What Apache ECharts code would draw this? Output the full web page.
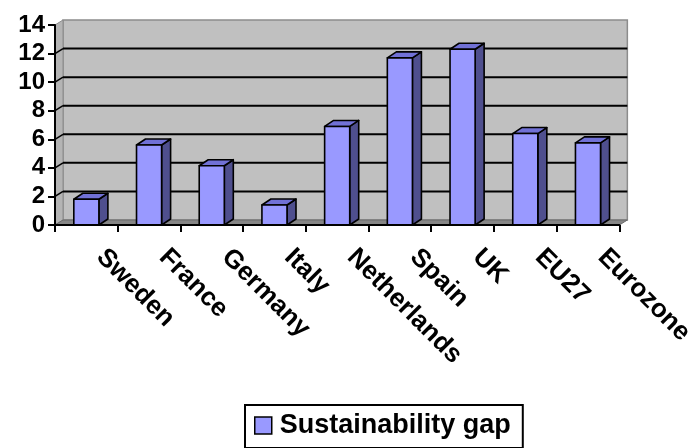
<!DOCTYPE html>
<html>
<head>
<meta charset="utf-8">
<script src="https://cdn.jsdelivr.net/npm/echarts@6/dist/echarts.min.js"></script>
<style>
  html, body { margin: 0; padding: 0; background: #ffffff; }
  #chart { width: 697px; height: 448px; }
</style>
</head>
<body>
<div id="chart"></div>
<script>
// Sustainability gap by country / area
const categories = ['Sweden', 'France', 'Germany', 'Italy', 'Netherlands', 'Spain', 'UK', 'EU27', 'Eurozone'];
const gapValues = [1.8, 5.6, 4.15, 1.4, 6.9, 11.7, 12.3, 6.4, 5.75];
const yTicks = [0, 2, 4, 6, 8, 10, 12, 14];
const seriesName = 'Sustainability gap';

const FONT = '"Liberation Sans", Arial, sans-serif';
// pseudo-3D depth offsets
const WALL_DX = 8, WALL_DY = -5;
const BAR_DX = 9, BAR_DY = -6;

const chart = echarts.init(document.getElementById('chart'), null, { renderer: 'canvas' });

// back wall, side wall, floor and gridlines, drawn from the axis scale
function renderWalls(params, api) {
  const cs = params.coordSys;
  const x0 = cs.x, x1 = cs.x + cs.width;
  const yTop = api.coord([0, yTicks[yTicks.length - 1]])[1];
  const yBase = api.coord([0, yTicks[0]])[1];
  const children = [];
  // back wall
  children.push({
    type: 'rect',
    shape: { x: x0 + WALL_DX, y: yTop + WALL_DY, width: x1 - x0, height: yBase - yTop },
    style: { fill: '#c0c0c0', stroke: '#8c8c8c', lineWidth: 1.5 }
  });
  // left side wall
  children.push({
    type: 'polygon',
    shape: { points: [[x0, yTop], [x0 + WALL_DX, yTop + WALL_DY], [x0 + WALL_DX, yBase + WALL_DY], [x0, yBase]] },
    style: { fill: '#b4b4b4', stroke: '#8c8c8c', lineWidth: 1 }
  });
  // gridlines on the back wall
  yTicks.slice(1, -1).forEach(function (v) {
    const y = api.coord([0, v])[1] + WALL_DY;
    children.push({
      type: 'line',
      shape: { x1: x0 + WALL_DX, y1: y, x2: x1 + WALL_DX, y2: y },
      style: { stroke: '#000000', lineWidth: 2 }
    });
    // short diagonal on the side wall
    const yf = api.coord([0, v])[1];
    children.push({
      type: 'line',
      shape: { x1: x0, y1: yf, x2: x0 + WALL_DX, y2: y },
      style: { stroke: '#000000', lineWidth: 1.5 }
    });
  });
  // floor
  children.push({
    type: 'polygon',
    shape: { points: [[x0, yBase], [x1, yBase], [x1 + WALL_DX, yBase + WALL_DY], [x0 + WALL_DX, yBase + WALL_DY]] },
    style: { fill: '#868686', stroke: '#6a6a6a', lineWidth: 1 }
  });
  return { type: 'group', children: children };
}

// one 3D column per category
function renderBar(params, api) {
  const idx = api.value(0);
  const val = api.value(1);
  const base = api.coord([idx, 0]);
  const top = api.coord([idx, val]);
  const w = api.size([1, 0])[0] * 0.4;
  const xl = base[0] - w / 2, xr = base[0] + w / 2;
  const yb = base[1], yt = top[1];
  const line = { stroke: '#000000', lineWidth: 1.6, lineJoin: 'round' };
  return {
    type: 'group',
    children: [
      {
        type: 'polygon',
        shape: { points: [[xr, yt], [xr + BAR_DX, yt + BAR_DY], [xr + BAR_DX, yb + BAR_DY], [xr, yb]] },
        style: Object.assign({ fill: '#4f4f8e' }, line)
      },
      {
        type: 'polygon',
        shape: { points: [[xl, yt], [xl + BAR_DX, yt + BAR_DY], [xr + BAR_DX, yt + BAR_DY], [xr, yt]] },
        style: Object.assign({ fill: '#7171d6' }, line)
      },
      {
        type: 'rect',
        shape: { x: xl, y: yt, width: w, height: yb - yt },
        style: Object.assign({ fill: '#9999ff' }, line)
      }
    ]
  };
}

const option = {
  backgroundColor: '#ffffff',
  animation: false,
  grid: { left: 55, right: 74, top: 25, bottom: 223, containLabel: false },
  legend: {
    data: [{ name: seriesName, icon: 'rect' }],
    left: 245,
    top: 405,
    orient: 'horizontal',
    itemWidth: 17,
    itemHeight: 17,
    itemGap: 0,
    padding: [7, 12, 9, 9],
    borderColor: '#000000',
    borderWidth: 2,
    backgroundColor: '#ffffff',
    itemStyle: { color: '#9999ff', borderColor: '#000000', borderWidth: 1.5 },
    textStyle: { fontFamily: FONT, fontWeight: 'bold', fontSize: 27, color: '#000000', padding: [0, 0, 0, 3] }
  },
  xAxis: {
    type: 'category',
    data: categories,
    boundaryGap: true,
    axisLine: { show: true, lineStyle: { color: '#000000', width: 2 } },
    axisTick: { show: true, interval: 0, length: 7, alignWithLabel: false, lineStyle: { color: '#000000', width: 2 } },
    axisLabel: {
      interval: 0,
      rotate: -45,
      margin: 14,
      padding: [0, 0, 0, 20],
      fontFamily: FONT,
      fontWeight: 'bold',
      fontSize: 26,
      color: '#000000'
    },
    splitLine: { show: false },
    z: 10
  },
  yAxis: {
    type: 'value',
    min: 0,
    max: 14,
    interval: 2,
    axisLine: { show: true, lineStyle: { color: '#000000', width: 2 } },
    axisTick: { show: true, length: 7, lineStyle: { color: '#000000', width: 2 } },
    axisLabel: {
      margin: 10,
      fontFamily: FONT,
      fontWeight: 'bold',
      fontSize: 24,
      color: '#000000',
      formatter: function (v) { return yTicks.indexOf(v) >= 0 ? String(v) : ''; }
    },
    splitLine: { show: false },
    z: 10
  },
  series: [
    {
      type: 'custom',
      name: 'walls',
      renderItem: renderWalls,
      data: [[0, 0]],
      clip: false,
      silent: true,
      z: 1,
      legendHoverLink: false
    },
    {
      type: 'custom',
      name: seriesName,
      renderItem: renderBar,
      data: gapValues.map(function (v, i) { return [i, v]; }),
      encode: { x: 0, y: 1 },
      itemStyle: { color: '#9999ff' },
      clip: false,
      z: 5
    }
  ]
};

chart.setOption(option);
</script>
</body>
</html>
